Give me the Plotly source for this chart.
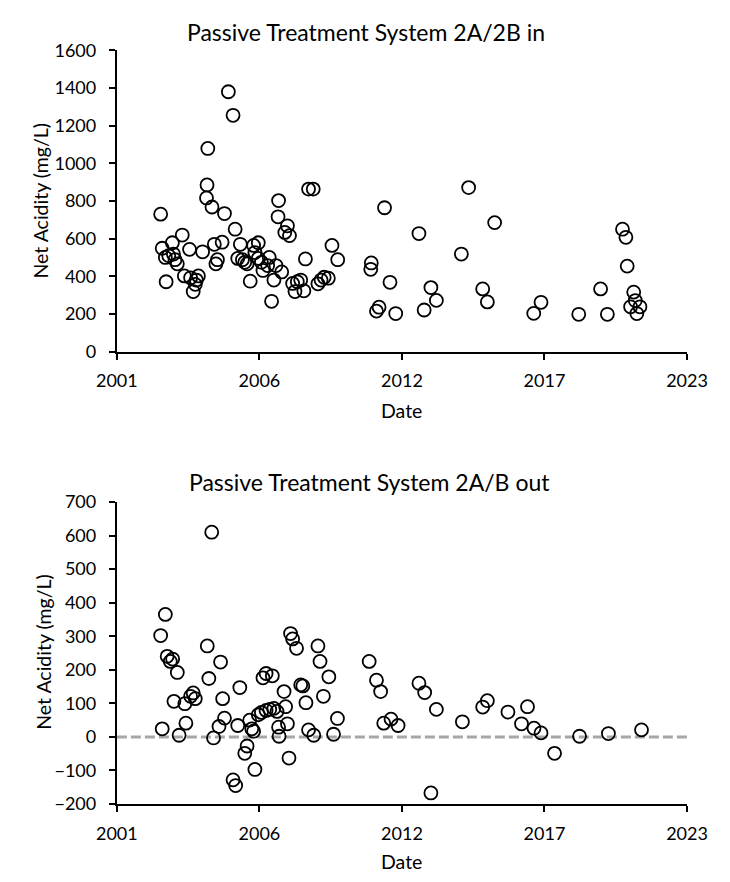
import plotly.graph_objects as go
from datetime import datetime

# ---- data (decimal year, net acidity mg/L) ----
in_years = [2002.98, 2003.04, 2003.16, 2003.29, 2003.19, 2003.43, 2003.47, 2003.53, 2003.62, 2003.81,
            2004.09, 2003.89, 2004.13, 2004.35, 2004.23, 2004.43, 2004.31, 2004.59, 2004.79, 2004.76,
            2004.74, 2004.95, 2005.04, 2005.10, 2005.16, 2005.34, 2005.43, 2005.58, 2005.76, 2005.84,
            2006.04, 2005.94, 2006.12, 2006.21, 2006.30, 2006.42, 2006.55, 2006.73, 2006.60, 2006.73,
            2006.85, 2006.91, 2007.15, 2007.09, 2007.24, 2007.33, 2007.41, 2007.51, 2007.49, 2007.63,
            2007.85, 2007.75, 2007.93, 2008.05, 2008.23, 2008.14, 2008.36, 2008.48, 2008.54, 2008.66,
            2008.84, 2009.02, 2009.14, 2009.26, 2009.42, 2009.56, 2009.78,
            2011.07, 2011.05, 2011.58, 2011.37, 2011.27, 2011.79, 2012.01, 2012.90, 2013.36, 2013.57,
            2013.10, 2014.53, 2014.81, 2015.35, 2015.53, 2015.81, 2017.59, 2017.31, 2019.04, 2019.88,
            2020.14, 2020.72, 2020.85, 2020.90, 2021.15, 2021.21, 2021.03, 2021.39, 2021.27]
in_acidity = [730, 549, 500, 509, 371, 578, 518, 488, 466, 619,
              543, 402, 392, 380, 319, 402, 357, 530, 1079, 885,
              816, 768, 570, 466, 488, 581, 733, 1380, 1255, 650,
              570, 495, 488, 474, 466, 374, 564, 578, 526, 495,
              474, 431, 500, 457, 267, 380, 457, 802, 716, 423,
              668, 633, 616, 362, 371, 319, 380, 323, 492, 863,
              863, 360, 380, 395, 390, 564, 488,
              471, 437, 764, 236, 215, 368, 202, 627, 340, 272,
              221, 518, 871, 333, 264, 685, 262, 203, 198, 333,
              198, 650, 607, 454, 316, 271, 238, 238, 202]

out_years = [2004.94, 2003.16, 2002.98, 2003.23, 2003.35, 2003.44, 2003.62, 2003.04, 2003.69, 2003.49,
             2003.91, 2004.13, 2004.23, 2004.31, 2003.95, 2004.77, 2004.83, 2005.01, 2005.22, 2005.28,
             2005.36, 2005.43, 2005.76, 2005.86, 2005.94, 2006.02, 2006.21, 2006.30, 2006.40, 2006.48,
             2006.55, 2006.60, 2006.73, 2006.85, 2006.91, 2007.03, 2007.27, 2007.03, 2007.17, 2007.33,
             2007.45, 2007.51, 2007.53, 2007.72, 2007.78, 2007.85, 2007.91, 2007.97, 2008.05, 2008.20,
             2008.36, 2008.44, 2008.56, 2008.66, 2008.86, 2009.02, 2009.10, 2009.23, 2009.44, 2009.62,
             2009.77, 2010.99,
             2011.27, 2011.43, 2011.55, 2011.83, 2012.10, 2012.90, 2013.12, 2013.36, 2013.57, 2014.57,
             2015.35, 2015.53, 2016.32, 2016.84, 2017.07, 2017.32, 2017.59, 2018.11, 2019.07, 2020.18,
             2021.45]
out_acidity = [610, 365, 302, 240, 225, 232, 192, 24, 5, 106,
               99, 121, 131, 114, 41, 271, 174, -3, 31, 223,
               114, 56, -128, -145, 34, 147, -49, -27, 50, 24,
               17, -97, 66, 73, 176, 189, 182, 79, 82, 85,
               76, 29, 2, 135, 90, 39, -63, 308, 292, 264,
               155, 152, 102, 21, 5, 271, 225, 121, 179, 8,
               55, 225,
               169, 135, 41, 53, 34, 160, 132, -167, 82, 45,
               89, 108, 74, 39, 90, 26, 12, -49, 2, 10,
               21]

tick_dates = ["2001-04-19", "2006-10-10", "2012-04-01", "2017-09-22", "2023-03-15"]
tick_labels = ["2001", "2006", "2012", "2017", "2023"]


def to_date(y):
    yr = int(y)
    start = datetime(yr, 1, 1)
    end = datetime(yr + 1, 1, 1)
    return start + (end - start) * (y - yr)


FONT = "Lato"
TXT = "#000000"
W, H = 730, 882

marker = dict(symbol="circle-open", size=13, color="#000000", line=dict(width=1.8, color="#000000"))

fig = go.Figure()
fig.add_trace(go.Scatter(x=[to_date(v) for v in in_years], y=in_acidity, mode="markers",
                         marker=marker, xaxis="x", yaxis="y", showlegend=False))
fig.add_trace(go.Scatter(x=[to_date(v) for v in out_years], y=out_acidity, mode="markers",
                         marker=marker, xaxis="x2", yaxis="y2", showlegend=False))

xdom = [101.7 / W, 706.7 / W]
ax_common = dict(showline=True, linecolor="#000000", linewidth=2, ticks="outside", ticklen=6,
                 tickwidth=2, tickcolor="#000000", showgrid=False, zeroline=False,
                 tickfont=dict(family=FONT, size=18, color=TXT))

xa = dict(type="date", range=[tick_dates[0], tick_dates[-1]], tickmode="array",
          tickvals=tick_dates, ticktext=tick_labels, domain=xdom, ticklabelstandoff=6, **ax_common)

fig.update_layout(
    width=W, height=H, margin=dict(l=0, r=0, t=0, b=0),
    paper_bgcolor="white", plot_bgcolor="white",
    xaxis=dict(anchor="y", **xa),
    yaxis=dict(anchor="x", range=[0, 1600], tick0=0, dtick=200, ticklabelstandoff=9,
               domain=[1 - 348.3 / H, 1 - 39.3 / H], **ax_common),
    xaxis2=dict(anchor="y2", **xa),
    yaxis2=dict(anchor="x2", range=[-200, 700], tick0=-200, dtick=100, ticklabelstandoff=9,
                domain=[1 - 812.3 / H, 1 - 502.5 / H], **ax_common),
)

fig.add_shape(type="line", xref="x2 domain", x0=0, x1=1, yref="y2", y0=0, y1=0,
              line=dict(color="#A6A6A6", width=3, dash="10px,4px"), layer="below")

annots = [
    ("Passive Treatment System 2A/2B in", 366, 20.5, 0, 23),
    ("Date", 404, 409, 0, 19.5),
    ("Passive Treatment System 2A/B out", 370, 482.5, 0, 23),
    ("Date", 404, 871.5, 0, 19.5),
    ("Net Acidity (mg/L)", 20.5, 193, -90, 19.5),
    ("Net Acidity (mg/L)", 24.5, 656, -90, 19.5),
]
for text, px, py, ang, fs in annots:
    fig.add_annotation(text=text, x=px / W, y=1 - py / H, xref="paper", yref="paper",
                       xanchor="center", yanchor="middle", showarrow=False,
                       textangle=ang, font=dict(family=FONT, size=fs, color=TXT))

fig.write_html("out.html")
